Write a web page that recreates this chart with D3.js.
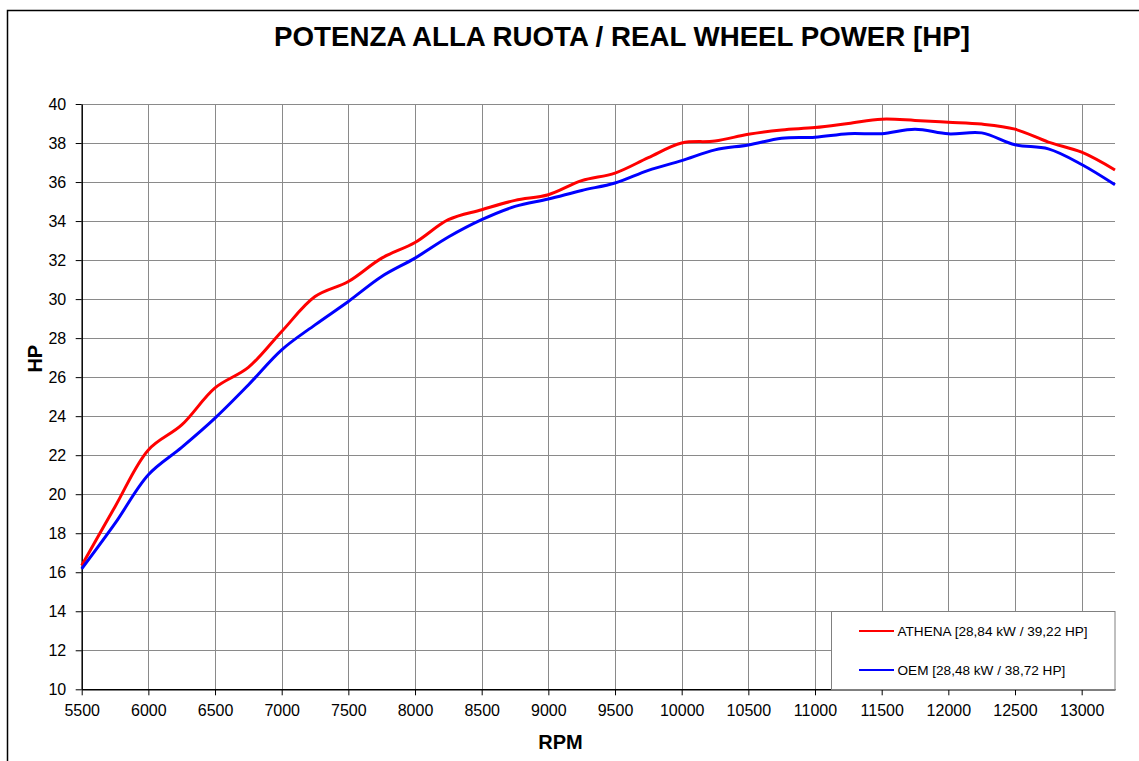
<!DOCTYPE html>
<html>
<head>
<meta charset="utf-8">
<script src="https://cdn.jsdelivr.net/npm/d3@7"></script>
<style>
body { margin: 0; background: #fff; }
svg { font-family: Arial, "Liberation Sans", sans-serif; }
</style>
</head>
<body>
<svg width="1139" height="761"></svg>
<script>
// rpm steps
var rpm = [5500, 5750, 6000, 6250, 6500, 6750, 7000, 7250, 7500, 7750, 8000, 8250, 8500, 8750,
           9000, 9250, 9500, 9750, 10000, 10250, 10500, 10750, 11000, 11250, 11500, 11750,
           12000, 12250, 12500, 12750, 13000, 13250];
var athena = [16.34, 19.36, 22.27, 23.55, 25.45, 26.5, 28.34, 30.13, 30.9, 32.1, 32.9, 34.07, 34.58, 35.06,
              35.35, 36.07, 36.46, 37.25, 38.0, 38.1, 38.45, 38.67, 38.79, 39.0, 39.22, 39.16,
              39.07, 38.97, 38.71, 38.05, 37.53, 36.62];
var oem = [16.17, 18.5, 21.0, 22.4, 23.9, 25.6, 27.4, 28.68, 29.88, 31.16, 32.1, 33.18, 34.07, 34.75,
           35.13, 35.57, 35.95, 36.6, 37.1, 37.65, 37.9, 38.25, 38.3, 38.48, 38.48, 38.71,
           38.47, 38.52, 37.91, 37.7, 36.9, 35.86];
var xTicks = d3.range(5500, 13001, 500);
var yTicks = d3.range(10, 41, 2);
var legendLabels = ["ATHENA [28,84 kW / 39,22 HP]", "OEM [28,48 kW / 38,72 HP]"];
var colors = ["#ff0000", "#0000ff"];

var svg = d3.select("svg");
var pL = 81.7, pR = 1115, pT = 104, pB = 689.3;

var x = d3.scaleLinear().domain([5500, 13250]).range([pL, pR]);
var y = d3.scaleLinear().domain([10, 40]).range([pB, pT]);

// outer frame
svg.append("rect").attr("x", 7.5).attr("y", 10.5).attr("width", 1300).attr("height", 900)
    .attr("fill", "none").attr("stroke", "#000").attr("stroke-width", 1.5);

svg.append("text").attr("x", 622).attr("y", 45.5).attr("text-anchor", "middle")
    .attr("font-size", 27.7).attr("font-weight", "bold").text("POTENZA ALLA RUOTA / REAL WHEEL POWER [HP]");

// grid
var grid = svg.append("g").attr("stroke", "#8a8a8a").attr("stroke-width", 1);
grid.selectAll(".gx").data(xTicks.slice(1)).enter().append("line")
    .attr("x1", d => Math.round(x(d)) + 0.5).attr("x2", d => Math.round(x(d)) + 0.5)
    .attr("y1", pT).attr("y2", pB);
grid.selectAll(".gy").data(yTicks.slice(1)).enter().append("line")
    .attr("x1", pL).attr("x2", pR)
    .attr("y1", d => Math.round(y(d)) + 0.5).attr("y2", d => Math.round(y(d)) + 0.5);

// axes
var xAxis = svg.append("g").attr("transform", "translate(0," + pB + ")")
    .call(d3.axisBottom(x).tickValues(xTicks).tickFormat(d3.format("d"))
        .tickSize(6).tickPadding(9).tickSizeOuter(0));
var yAxis = svg.append("g").attr("transform", "translate(" + pL + ",0)")
    .call(d3.axisLeft(y).tickValues(yTicks).tickSize(6).tickPadding(9.5).tickSizeOuter(0));
[xAxis, yAxis].forEach(function(a) {
    a.select(".domain").attr("stroke", "#000").attr("stroke-width", 1.5);
    a.selectAll(".tick line").attr("stroke", "#000");
    a.selectAll("text").attr("font-size", 16).attr("fill", "#000")
        .attr("font-family", "Arial, 'Liberation Sans', sans-serif");
});
yAxis.selectAll("text").attr("dy", "0.35em");

svg.append("text").attr("x", 560.5).attr("y", 749).attr("text-anchor", "middle")
    .attr("font-size", 20).attr("font-weight", "bold").text("RPM");
svg.append("text").attr("transform", "translate(41.7,358.7) rotate(-90)").attr("text-anchor", "middle")
    .attr("font-size", 20).attr("font-weight", "bold").text("HP");

// curves
var series = [athena, oem];
var line = d3.line().x((d, i) => x(rpm[i])).y(d => y(d)).curve(d3.curveCatmullRom.alpha(0.5));
svg.selectAll(".curve").data(series).enter().append("path")
    .attr("d", line).attr("fill", "none")
    .attr("stroke", (d, i) => colors[i]).attr("stroke-width", 3);

// legend
var lg = svg.append("g");
lg.append("rect").attr("x", 831.5).attr("y", 611.5).attr("width", 283.5).attr("height", 78)
    .attr("fill", "#fff").attr("stroke", "#808080");
legendLabels.forEach(function(t, i) {
    var ly = 631 + i * 39;
    lg.append("line").attr("x1", 859).attr("x2", 894).attr("y1", ly).attr("y2", ly)
        .attr("stroke", colors[i]).attr("stroke-width", 2);
    lg.append("text").attr("x", 897.5).attr("y", ly).attr("dy", "0.35em")
        .attr("font-size", 13.6).text(t);
});
</script>
</body>
</html>
